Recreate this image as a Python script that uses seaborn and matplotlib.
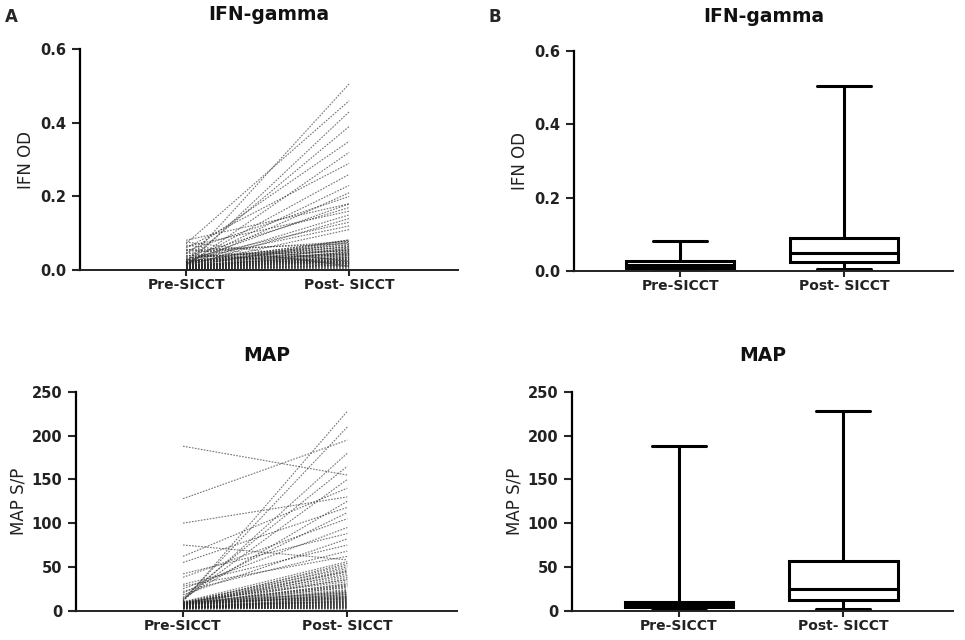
import matplotlib
matplotlib.use("Agg")
import matplotlib.pyplot as plt
import seaborn as sns
import pandas as pd

sns.set_theme(style="ticks")
plt.rcParams['font.family'] = ['DejaVu Sans']

timepoints = ["Pre-SICCT", "Post- SICCT"]

# IFN-gamma OD, one value per animal before / after the skin test
ifn_pre = [
    0.002, 0.004, 0.001, 0.006, 0.003, 0.007, 0.005, 0.000, 0.008, 0.002,
    0.010, 0.009, 0.011, 0.012, 0.008, 0.010, 0.009, 0.011, 0.012, 0.010,
    0.014, 0.016, 0.018, 0.020, 0.022, 0.024, 0.013, 0.015, 0.017, 0.019,
    0.021, 0.023, 0.027, 0.014, 0.016, 0.018, 0.020, 0.022, 0.026, 0.013,
    0.027, 0.030, 0.033, 0.036, 0.040, 0.044, 0.048, 0.052, 0.056, 0.060,
    0.064, 0.068, 0.072, 0.076, 0.081, 0.028, 0.032, 0.038, 0.046, 0.054,
    0.003, 0.006, 0.004, 0.012, 0.005, 0.018, 0.021, 0.004, 0.007, 0.010,
    0.013, 0.006, 0.019, 0.022, 0.005, 0.008, 0.011, 0.014, 0.017, 0.020,
]
ifn_post = [
    0.010, 0.020, 0.006, 0.030, 0.015, 0.045, 0.025, 0.004, 0.060, 0.012,
    0.082, 0.035, 0.140, 0.210, 0.028, 0.050, 0.018, 0.075, 0.320, 0.040,
    0.110, 0.055, 0.260, 0.070, 0.180, 0.042, 0.430, 0.033, 0.150, 0.065,
    0.506, 0.080, 0.120, 0.038, 0.230, 0.048, 0.076, 0.390, 0.058, 0.022,
    0.019, 0.130, 0.062, 0.170, 0.021, 0.350, 0.078, 0.200, 0.017, 0.290,
    0.160, 0.011, 0.460, 0.023, 0.180, 0.044, 0.068, 0.052, 0.009, 0.072,
    0.008, 0.016, 0.026, 0.032, 0.036, 0.046, 0.054, 0.012, 0.024, 0.030,
    0.040, 0.050, 0.064, 0.082, 0.014, 0.020, 0.028, 0.034, 0.043, 0.056,
]

# MAP ELISA S/P
map_pre = [
    188, 128, 100, 75, 62, 55, 42, 38, 30, 28,
    25, 22, 20, 18, 15, 14, 13, 12, 11, 10.5,
    9.8, 9.5, 9.2, 9.0, 8.8, 8.6, 8.4, 8.2, 8.0, 7.8,
    7.6, 9.9, 9.3, 8.9, 8.5, 8.1, 7.7, 9.6, 8.7, 7.9,
    7.4, 7.2, 7.0, 6.8, 6.6, 6.4, 6.2, 6.0, 5.8, 5.6,
    5.4, 5.2, 5.0, 4.8, 4.6, 7.3, 6.9, 6.5, 6.1, 5.7,
    4.4, 4.2, 4.0, 3.8, 3.6, 3.4, 3.2, 3.0, 2.8, 2.6,
    2.4, 2.2, 1.2, 4.3, 3.9, 3.5, 3.1, 2.7, 4.1, 3.3,
]
map_post = [
    155, 195, 130, 58, 140, 118, 88, 105, 75, 62,
    95, 68, 112, 82, 165, 125, 150, 210, 180, 228,
    48, 14, 35, 20, 52, 9, 28, 44, 16, 30,
    24, 56, 12.5, 40, 18, 26, 8, 33, 21, 46,
    38, 15, 22, 6, 50, 17, 31, 13, 42, 19,
    27, 11, 36, 23, 10, 54, 16.5, 29, 45, 20.5,
    5, 3, 12, 7, 1.5, 14.5, 4, 9.5, 13.5, 6.5,
    2.5, 11.5, 3.5, 8.5, 10.5, 5.5, 7.5, 4.5, 18.5, 15.5,
]


def to_long(pre, post):
    n = len(pre)
    df = pd.DataFrame({
        "animal": list(range(n)) * 2,
        "time": [timepoints[0]] * n + [timepoints[1]] * n,
        "value": list(pre) + list(post),
    })
    df["time"] = pd.Categorical(df["time"], categories=timepoints, ordered=True)
    return df


ifn_df = to_long(ifn_pre, ifn_post)
map_df = to_long(map_pre, map_post)

fig = plt.figure(figsize=(9.65, 6.4), dpi=100)
ax_tl = fig.add_axes([0.083, 0.578, 0.392, 0.345])
ax_bl = fig.add_axes([0.079, 0.046, 0.395, 0.3415])
ax_tr = fig.add_axes([0.595, 0.577, 0.393, 0.343])
ax_br = fig.add_axes([0.593, 0.046, 0.395, 0.3415])

for ax, df in [(ax_tl, ifn_df), (ax_bl, map_df)]:
    sns.lineplot(data=df, x="time", y="value", units="animal", estimator=None,
                 color="#2a2a2a", lw=0.8, linestyle=(0, (1.5, 1.2)), alpha=0.65,
                 ax=ax)

for ax, df in [(ax_tr, ifn_df), (ax_br, map_df)]:
    sns.boxplot(data=df, x="time", y="value", order=timepoints, whis=(0, 100),
                width=0.66, color="white", linecolor="black", linewidth=2.2,
                ax=ax)

panels = [
    (ax_tl, "IFN-gamma", "IFN OD", (0, 0.6), [0, 0.2, 0.4, 0.6], 21, 3.5),
    (ax_tr, "IFN-gamma", "IFN OD", (0, 0.6), [0, 0.2, 0.4, 0.6], 21, 3.5),
    (ax_bl, "MAP", "MAP S/P", (0, 250), [0, 50, 100, 150, 200, 250], 22, 3),
    (ax_br, "MAP", "MAP S/P", (0, 250), [0, 50, 100, 150, 200, 250], 22, 3),
]
for ax, title, ylab, ylim, yticks, pad, lpad in panels:
    ax.set_xlim(-0.65, 1.67)
    ax.set_ylim(*ylim)
    ax.set_yticks(yticks)
    if ylim[1] < 1:
        ax.set_yticklabels([f"{t:.1f}" for t in yticks])
    ax.set_xticks([0, 1])
    ax.set_xticklabels(timepoints)
    ax.set_xlabel("")
    ax.set_ylabel(ylab, fontsize=12, labelpad=lpad, color="#222222")
    ax.set_title(title, fontsize=13.5, fontweight="bold", pad=pad, color="#111111")
    sns.despine(ax=ax)
    ax.spines["left"].set_linewidth(1.6)
    ax.spines["bottom"].set_linewidth(1.4)
    ax.spines["left"].set_color("black")
    ax.spines["bottom"].set_color("#222222")
    ax.tick_params(axis="y", length=6, width=1.5, labelsize=10.5, pad=4,
                   labelcolor="#222222")
    ax.tick_params(axis="x", length=4, width=1.5, labelsize=10, pad=2,
                   labelcolor="#222222")
    for lab in ax.get_xticklabels() + ax.get_yticklabels():
        lab.set_fontweight("bold")
    ax.grid(False)

fig.text(5 / 965, 1 - 22 / 640, "A", fontsize=12, fontweight="bold")
fig.text(488 / 965, 1 - 22 / 640, "B", fontsize=12, fontweight="bold")

fig.savefig("out.png", dpi=100, facecolor="white")
